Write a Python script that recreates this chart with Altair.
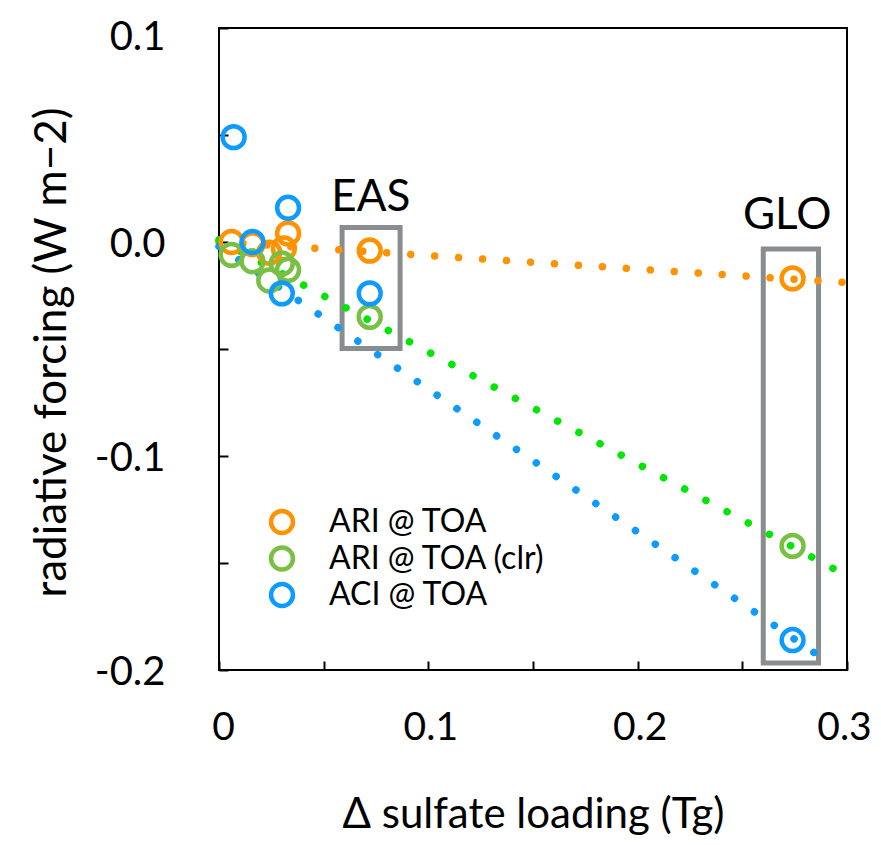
import altair as alt
import pandas as pd

FONT = "Lato"

series_names = ["ARI @ TOA", "ARI @ TOA (clr)", "ACI @ TOA"]
circle_colors = ["#FF9200", "#78BF44", "#0D9BFF"]
dot_colors = ["#FF9200", "#00E600", "#0D9BFF"]

# data points
ari_x = [0.006, 0.016, 0.024, 0.031, 0.033, 0.072, 0.274]
ari_y = [0.000, -0.001, -0.005, -0.003, 0.004, -0.004, -0.017]
clr_x = [0.006, 0.016, 0.024, 0.030, 0.033, 0.072, 0.274]
clr_y = [-0.006, -0.009, -0.018, -0.010, -0.013, -0.035, -0.142]
aci_x = [0.007, 0.016, 0.030, 0.033, 0.072, 0.274]
aci_y = [0.049, 0.000, -0.024, 0.016, -0.024, -0.186]

# trend lines (endpoints)
ari_fit_x = [0.0, 0.300]
ari_fit_y = [0.000, -0.019]
clr_fit_x = [0.0, 0.300]
clr_fit_y = [0.001, -0.156]
aci_fit_x = [0.0, 0.289]
aci_fit_y = [-0.002, -0.195]

# region boxes
box_names = ["EAS", "GLO"]
box_x1 = [0.0588, 0.2600]
box_x2 = [0.0865, 0.2864]
box_y1 = [0.0068, -0.0033]
box_y2 = [-0.0498, -0.1967]
box_label_x = [0.0725, 0.2714]
box_label_y = [0.0205, 0.0120]

x_ticks = [0.0, 0.05, 0.1, 0.15, 0.2, 0.25, 0.3]
y_ticks = [0.1, 0.05, 0.0, -0.05, -0.1, -0.15, -0.2]

pts = pd.DataFrame(
    [(x, y, series_names[0]) for x, y in zip(ari_x, ari_y)]
    + [(x, y, series_names[1]) for x, y in zip(clr_x, clr_y)]
    + [(x, y, series_names[2]) for x, y in zip(aci_x, aci_y)],
    columns=["x", "y", "series"],
)
fits = pd.DataFrame(
    [(x, y, series_names[0]) for x, y in zip(ari_fit_x, ari_fit_y)]
    + [(x, y, series_names[1]) for x, y in zip(clr_fit_x, clr_fit_y)]
    + [(x, y, series_names[2]) for x, y in zip(aci_fit_x, aci_fit_y)],
    columns=["x", "y", "series"],
)
boxes = pd.DataFrame({
    "name": box_names, "x1": box_x1, "x2": box_x2, "y1": box_y1, "y2": box_y2,
    "lx": box_label_x, "ly": box_label_y,
})

xscale = alt.Scale(domain=[0, 0.3], nice=False, zero=False)
yscale = alt.Scale(domain=[-0.2, 0.1], nice=False, zero=False)

xaxis = alt.Axis(
    values=x_ticks, offset=-9, tickSize=9, tickWidth=2, tickColor="black",
    domain=False, grid=False, labelPadding=38, labelFontSize=39, labelFont=FONT,
    labelColor="black", labelFlush=False,
    labelOffset=alt.expr("datum.value > 0.29 ? -3 : (datum.value < 0.01 ? 4 : 2)"),
    labelExpr="(round(datum.value*100) % 10 == 0) ? (datum.value == 0 ? '0' : format(datum.value, '.1f')) : ''",
    title="Δ sulfate loading (Tg)", titleFont=FONT, titleFontSize=42,
    titleFontWeight="normal", titleColor="black",
    titleX=314, titleY=166, titleAlign="center", titleBaseline="alphabetic",
)
yaxis = alt.Axis(
    values=y_ticks, offset=-9, tickSize=9, tickWidth=2, tickColor="black",
    domain=False, grid=False, labelPadding=54, labelFontSize=40, labelFont=FONT,
    labelColor="black", labelFlush=False,
    labelOffset=alt.expr("datum.value > 0.09 ? 9 : 2"),
    labelExpr="(round(datum.value*100) % 10 == 0) ? ((datum.value < -0.001 ? '-' : '') + format(abs(datum.value), '.1f')) : ''",
    title="radiative forcing (W m\u22122)", titleFont=FONT, titleFontSize=44,
    titleFontWeight="normal", titleColor="black",
    titleX=-176, titleY=324, titleAngle=-90, titleAlign="center", titleBaseline="middle",
)

rects = alt.Chart(boxes).mark_rect(
    fillOpacity=0, stroke="#8A8D90", strokeWidth=5
).encode(
    x=alt.X("x1:Q", scale=xscale, axis=xaxis),
    x2="x2:Q",
    y=alt.Y("y1:Q", scale=yscale, axis=yaxis),
    y2="y2:Q",
)

lines = alt.Chart(fits).mark_line(
    strokeDash=[0.01, 24], strokeCap="round", strokeWidth=7.5
).encode(
    x=alt.X("x:Q", scale=xscale),
    y=alt.Y("y:Q", scale=yscale),
    detail="series:N",
    color=alt.Color("series:N", scale=alt.Scale(domain=series_names, range=dot_colors), legend=None),
)

points = alt.Chart(pts).mark_point(
    shape="circle", filled=False, size=480, strokeWidth=4.5, opacity=1
).encode(
    x=alt.X("x:Q", scale=xscale),
    y=alt.Y("y:Q", scale=yscale),
    color=alt.Color(
        "series:N",
        scale=alt.Scale(domain=series_names, range=circle_colors),
        legend=alt.Legend(
            title=None, orient="none", legendX=47, legendY=479,
            symbolType="circle", symbolSize=480, symbolStrokeWidth=4.5,
            symbolFillColor="white", labelFont=FONT, labelFontSize=32,
            labelColor="black", labelOffset=31, rowPadding=4.5, padding=0,
            clipHeight=30, labelLimit=400,
        ),
    ),
)

texts = alt.Chart(boxes).mark_text(
    font=FONT, fontSize=44, color="black", baseline="middle", align="center"
).encode(
    x=alt.X("lx:Q", scale=xscale),
    y=alt.Y("ly:Q", scale=yscale),
    text="name:N",
)

chart = alt.layer(rects, lines, points, texts).resolve_scale(
    color="independent"
).properties(
    width=628, height=642,
    autosize=alt.AutoSizeParams(type="none"),
    padding={"left": 211, "top": 20, "right": 26, "bottom": 166},
    background="white",
).configure_view(stroke="black", strokeWidth=2)

chart.save("out.html", embed_options={"renderer": "svg", "actions": False})
